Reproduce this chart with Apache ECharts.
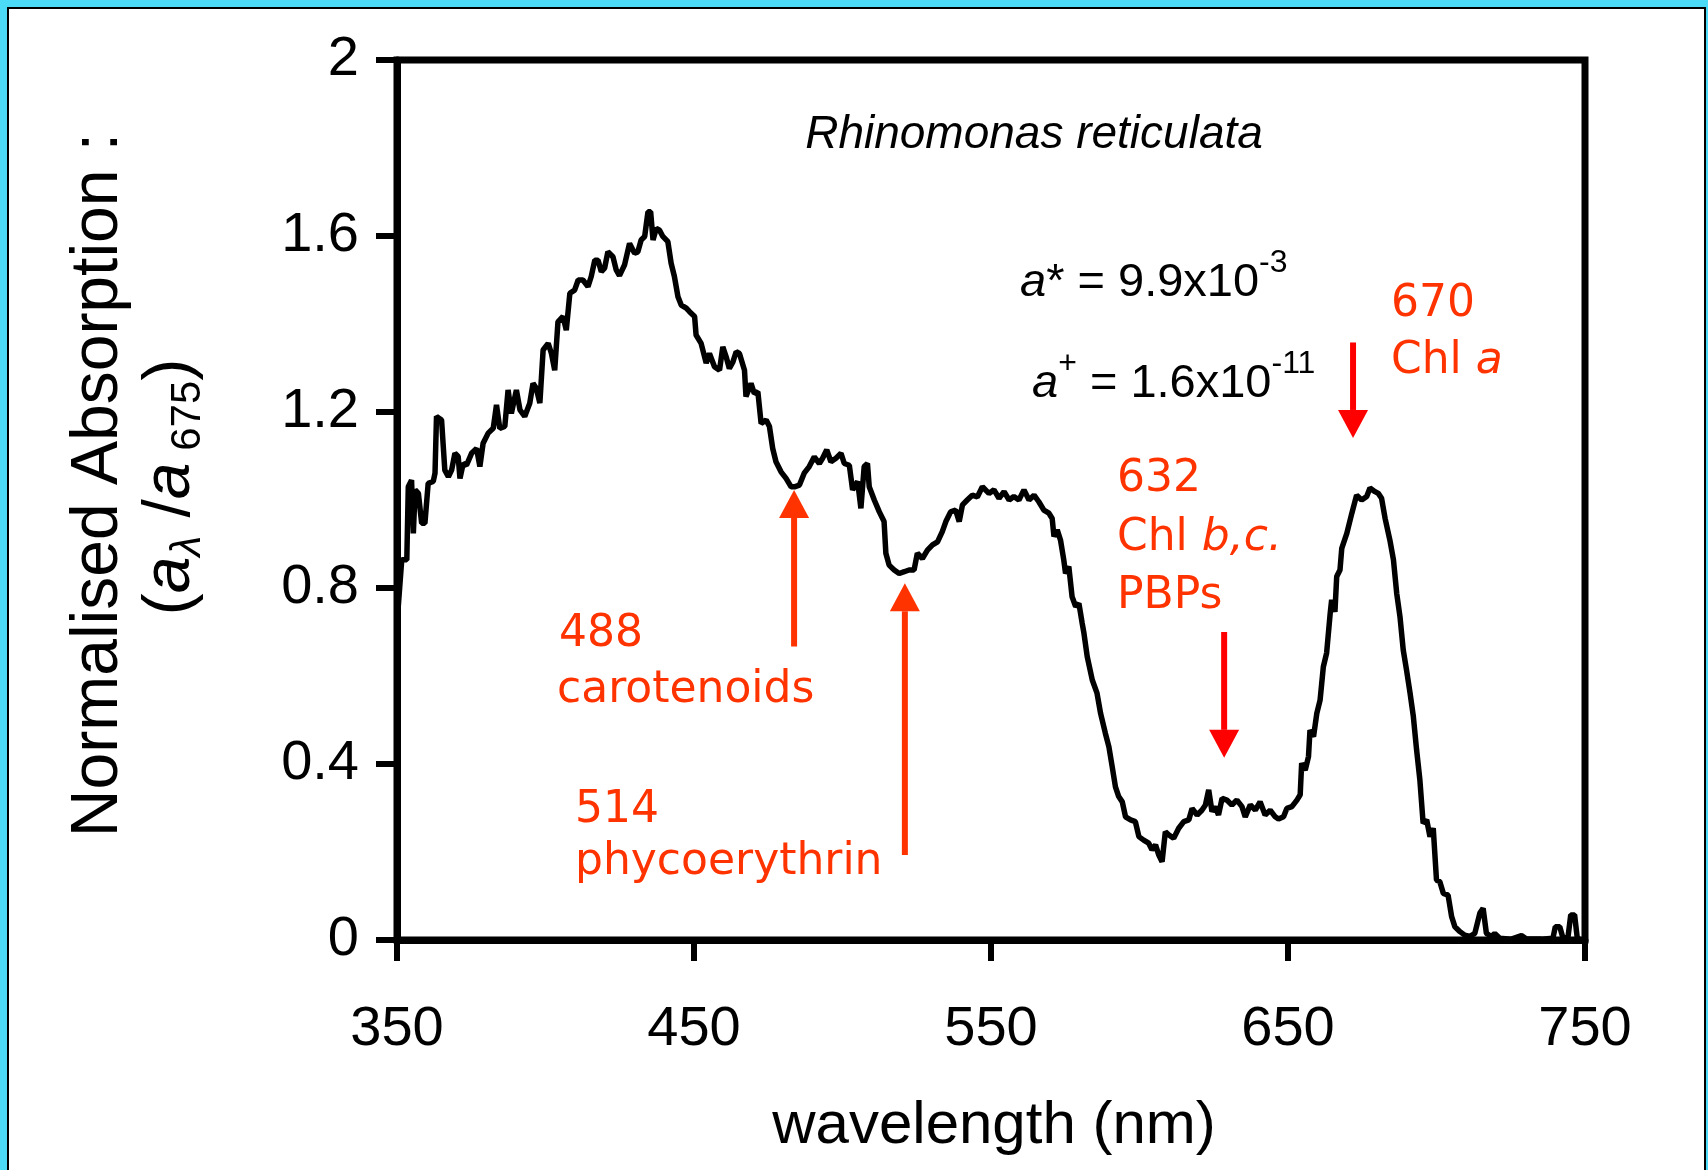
<!DOCTYPE html>
<html><head><meta charset="utf-8">
<script src="https://cdn.jsdelivr.net/npm/echarts@6/dist/echarts.min.js"></script>
<style>
html,body{margin:0;padding:0;width:1708px;height:1170px;overflow:hidden;background:#4CDBF7;}
#frame{position:absolute;left:7px;top:7px;width:1699px;height:1200px;box-sizing:border-box;border:2px solid #000;border-bottom:none;background:#fff;}
#chart{position:absolute;left:0;top:0;width:1708px;height:1170px;}
</style></head><body><div id="frame"></div><div id="chart"></div>
<script>
// ---- data ----
const wavelength = [350.0,351.6,353.3,353.8,354.9,355.5,356.1,357.2,358.3,359.4,360.5,362.2,362.8,363.3,365.0,366.1,367.3,368.4,369.5,370.6,371.2,372.3,373.4,375.1,376.8,377.9,379.0,380.7,382.4,383.5,384.6,386.3,387.4,388.5,390.2,391.4,393.0,394.7,395.8,396.9,398.1,399.2,400.9,402.0,403.1,404.2,405.9,407.0,408.2,409.8,411.0,412.6,414.3,415.4,416.6,417.7,418.8,419.9,421.0,422.7,423.8,424.9,426.6,428.3,430.0,431.1,432.2,433.4,434.5,435.4,436.2,437.3,438.4,439.5,441.2,442.3,443.4,444.6,445.7,447.4,448.5,450.2,450.7,452.4,454.1,455.2,456.9,458.6,459.7,460.8,461.9,463.1,464.2,465.3,467.0,467.5,469.2,470.3,471.5,472.6,474.3,475.4,476.5,477.6,479.3,481.0,482.7,483.8,485.5,487.1,488.8,490.5,492.2,493.3,494.7,496.1,497.8,499.5,500.6,502.3,503.4,505.1,506.2,507.3,508.4,509.0,510.7,512.4,514.0,514.6,515.7,517.4,519.1,520.8,522.4,524.1,525.2,526.9,528.6,530.3,532.0,533.6,534.8,536.4,538.1,539.3,540.4,542.0,543.7,545.4,547.1,549.3,551.0,552.7,554.4,556.1,557.7,559.4,561.1,562.8,564.5,566.1,567.8,569.5,570.6,571.2,572.3,573.4,574.5,575.1,576.2,577.3,578.5,579.6,580.7,581.3,582.4,584.1,585.7,586.9,588.5,589.7,590.8,591.9,593.0,594.2,595.3,597.0,598.6,599.8,601.4,603.1,604.2,605.4,606.5,607.6,608.7,609.8,611.5,613.2,614.9,616.6,617.7,619.4,621.0,622.2,623.3,624.4,625.5,626.6,627.8,629.4,631.1,632.8,634.5,635.6,637.3,639.0,640.6,642.3,644.0,645.7,646.8,648.5,649.6,651.3,653.0,654.1,654.6,655.8,656.9,657.4,658.6,659.7,660.8,661.9,663.0,664.2,664.7,665.8,666.4,667.5,668.1,669.8,671.5,673.1,674.8,676.5,677.6,679.3,680.4,681.5,682.7,684.3,685.5,686.6,687.7,688.8,689.9,691.1,692.2,693.3,694.4,695.5,696.7,697.8,698.9,700.0,701.1,702.3,703.9,705.1,706.2,707.9,709.5,711.2,712.9,714.6,715.7,716.8,718.5,719.6,721.3,725.2,728.6,730.3,735.3,739.2,740.0,741.5,742.6,744.3,745.2,746.5,747.4,748.2];
const absorption = [0.72,0.864,0.864,1.030,1.045,0.924,1.023,1.015,0.947,0.947,1.038,1.042,1.061,1.19,1.182,1.068,1.053,1.068,1.106,1.099,1.049,1.083,1.079,1.106,1.117,1.076,1.129,1.152,1.163,1.216,1.163,1.167,1.25,1.197,1.25,1.205,1.19,1.22,1.265,1.254,1.22,1.341,1.356,1.333,1.295,1.405,1.417,1.386,1.47,1.477,1.5,1.5,1.485,1.508,1.545,1.545,1.519,1.527,1.564,1.553,1.523,1.51,1.534,1.583,1.561,1.564,1.591,1.599,1.655,1.655,1.591,1.617,1.613,1.599,1.587,1.538,1.508,1.462,1.443,1.436,1.428,1.417,1.375,1.356,1.311,1.333,1.303,1.295,1.348,1.326,1.299,1.314,1.337,1.333,1.295,1.235,1.265,1.242,1.246,1.174,1.182,1.167,1.117,1.087,1.064,1.049,1.03,1.03,1.034,1.061,1.076,1.098,1.083,1.095,1.114,1.087,1.095,1.106,1.083,1.079,1.023,1.042,0.981,1.076,1.083,1.03,1.0,0.973,0.951,0.879,0.852,0.841,0.833,0.837,0.841,0.841,0.879,0.867,0.886,0.898,0.905,0.928,0.951,0.973,0.977,0.951,0.989,1.0,1.011,1.007,1.03,1.015,1.023,1.004,1.019,1.0,1.008,1.0,1.023,1.0,1.011,0.996,0.977,0.97,0.958,0.917,0.932,0.909,0.864,0.833,0.849,0.78,0.758,0.765,0.72,0.697,0.644,0.591,0.561,0.515,0.47,0.439,0.394,0.348,0.326,0.314,0.28,0.273,0.269,0.235,0.227,0.22,0.205,0.216,0.193,0.178,0.246,0.239,0.231,0.254,0.269,0.273,0.299,0.284,0.295,0.307,0.341,0.292,0.303,0.284,0.322,0.318,0.307,0.318,0.303,0.28,0.307,0.295,0.314,0.284,0.295,0.28,0.275,0.28,0.299,0.303,0.318,0.33,0.402,0.386,0.417,0.477,0.462,0.515,0.545,0.621,0.652,0.742,0.773,0.746,0.826,0.841,0.89,0.924,0.97,1.011,1.0,1.008,1.027,1.019,1.015,1.004,0.958,0.909,0.864,0.788,0.735,0.659,0.614,0.561,0.508,0.432,0.364,0.265,0.273,0.235,0.254,0.136,0.133,0.106,0.102,0.053,0.03,0.019,0.011,0.008,0.015,0.061,0.072,0.015,0.008,0.015,0.004,0.002,0.01,0.002,0.002,0.004,0.03,0.03,0.004,0.008,0.057,0.057,0.004,0.002];
const xTicks = [350, 450, 550, 650, 750];
const yTickStep = 0.4;
// annotation arrows (data coordinates: wavelength, tail value, tip value)
const arrowWavelength = [483.7, 521.0, 628.5, 671.9];
const arrowTail = [0.667, 0.193, 0.700, 1.358];
const arrowTip = [1.023, 0.811, 0.414, 1.141];

const SANS = '"Liberation Sans", Arial, Helvetica, sans-serif';
const RED_FONT = '"DejaVu Sans", Verdana, sans-serif';
const TXT_RED = '#FF3300';

const chart = echarts.init(document.getElementById('chart'), null, {renderer: 'canvas'});
chart.setOption({
  animation: false,
  backgroundColor: 'transparent',
  grid: {left: 397, right: 123, top: 60, bottom: 230, show: true, borderColor: '#000', borderWidth: 7, backgroundColor: 'transparent'},
  xAxis: {
    type: 'value', min: 350, max: 750,
    axisLine: {show: true, lineStyle: {color: '#000', width: 7}},
    axisTick: {show: true, customValues: xTicks, length: 21, lineStyle: {color: '#000', width: 6}},
    axisLabel: {customValues: xTicks, margin: 62, fontSize: 56, fontFamily: SANS, color: '#000'},
    splitLine: {show: false}
  },
  yAxis: {
    type: 'value', min: 0, max: 2, interval: yTickStep,
    axisLine: {show: true, lineStyle: {color: '#000', width: 7}},
    axisTick: {show: true, length: 21, lineStyle: {color: '#000', width: 6}},
    axisLabel: {margin: 38, fontSize: 56, fontFamily: SANS, color: '#000'},
    splitLine: {show: false}
  },
  series: [{
    type: 'line',
    data: wavelength.map((w, i) => [w, absorption[i]]),
    showSymbol: false, symbol: 'none',
    lineStyle: {color: '#000', width: 5.5},
    z: 3
  }]
});

function txt(x, y, text, font, fill, align, extra) {
  return Object.assign({
    type: 'text', x: x, y: y, z: 100,
    style: {text: text, font: font, fill: fill, align: align, textAlign: align, verticalAlign: 'middle', textVerticalAlign: 'middle'}
  }, extra || {});
}

const elems = [];
// y axis title
elems.push(txt(99, 485, 'Normalised Absorption :', '66px ' + SANS, '#000', 'center', {rotation: Math.PI / 2}));
elems.push({
  type: 'text', x: 171, y: 487, rotation: Math.PI / 2, z: 100,
  style: {
    text: '{p|(}{i|a}{sl|λ}{p| /}{i|a}{sn| 675}{p|)}',
    align: 'center', textAlign: 'center', verticalAlign: 'middle', textVerticalAlign: 'middle',
    rich: {
      p: {fontSize: 66, fontFamily: SANS, lineHeight: 80, fill: '#000'},
      i: {fontSize: 66, fontFamily: SANS, fontStyle: 'italic', lineHeight: 80, fill: '#000'},
      sl: {fontSize: 42, fontFamily: SANS, fontStyle: 'italic', lineHeight: 80, height: 46, verticalAlign: 'bottom', fill: '#000'},
      sn: {fontSize: 42, fontFamily: SANS, lineHeight: 80, height: 46, verticalAlign: 'bottom', fill: '#000'}
    }
  }
});
// x axis title
elems.push(txt(994, 1126, 'wavelength (nm)', '60px ' + SANS, '#000', 'center'));
// species name
elems.push(txt(1034, 135.5, 'Rhinomonas reticulata', 'italic 46px ' + SANS, '#000', 'center'));
// a* and a+ values
const blackRich = {
  i: {fontSize: 47, fontFamily: SANS, fontStyle: 'italic', lineHeight: 60, fill: '#000'},
  n: {fontSize: 47, fontFamily: SANS, lineHeight: 60, fill: '#000'},
  s: {fontSize: 32, fontFamily: SANS, lineHeight: 60, height: 20, verticalAlign: 'top', fill: '#000'}
};
elems.push({type: 'text', x: 1020, y: 283, z: 100, style: {text: '{i|a}{n|* = 9.9x10}{s|-3}', align: 'left', textAlign: 'left', verticalAlign: 'middle', textVerticalAlign: 'middle', rich: blackRich}});
elems.push({type: 'text', x: 1032, y: 384, z: 100, style: {text: '{i|a}{s|+}{n| = 1.6x10}{s|-11}', align: 'left', textAlign: 'left', verticalAlign: 'middle', textVerticalAlign: 'middle', rich: blackRich}});
// red pigment labels
const rf = '44px ' + RED_FONT;
elems.push(txt(559, 635, '488', rf, TXT_RED, 'left'));
elems.push(txt(557, 691, 'carotenoids', rf, TXT_RED, 'left'));
elems.push(txt(575, 811, '514', rf, TXT_RED, 'left'));
elems.push(txt(575, 863, 'phycoerythrin', rf, TXT_RED, 'left'));
elems.push(txt(1117, 480, '632', rf, TXT_RED, 'left'));
const redRich = {
  n: {fontSize: 44, fontFamily: RED_FONT, lineHeight: 50, fill: TXT_RED},
  i: {fontSize: 44, fontFamily: RED_FONT, fontStyle: 'italic', lineHeight: 50, fill: TXT_RED}
};
elems.push({type: 'text', x: 1117, y: 539, z: 100, style: {text: '{n|Chl }{i|b,c.}', align: 'left', textAlign: 'left', verticalAlign: 'middle', textVerticalAlign: 'middle', rich: redRich}});
elems.push(txt(1117, 597, 'PBPs', rf, TXT_RED, 'left'));
elems.push(txt(1391, 305, '670', rf, TXT_RED, 'left'));
elems.push({type: 'text', x: 1391, y: 362, z: 100, style: {text: '{n|Chl }{i|a}', align: 'left', textAlign: 'left', verticalAlign: 'middle', textVerticalAlign: 'middle', rich: redRich}});

// arrows positioned through the axes
const arrowColors = ['#FF3300', '#FF3300', '#FF0000', '#FF0000'];
arrowWavelength.forEach((w, i) => {
  const a = chart.convertToPixel({xAxisIndex: 0, yAxisIndex: 0}, [w, arrowTail[i]]);
  const b = chart.convertToPixel({xAxisIndex: 0, yAxisIndex: 0}, [w, arrowTip[i]]);
  const dir = Math.sign(b[1] - a[1]);
  const base = b[1] - dir * 28;
  elems.push({type: 'line', z: 90, shape: {x1: a[0], y1: a[1], x2: b[0], y2: base}, style: {stroke: arrowColors[i], lineWidth: 6}});
  elems.push({type: 'polygon', z: 90, shape: {points: [[b[0], b[1]], [b[0] - 15, base], [b[0] + 15, base]]}, style: {fill: arrowColors[i]}});
});

chart.setOption({graphic: {elements: elems}});
</script>
</body></html>
